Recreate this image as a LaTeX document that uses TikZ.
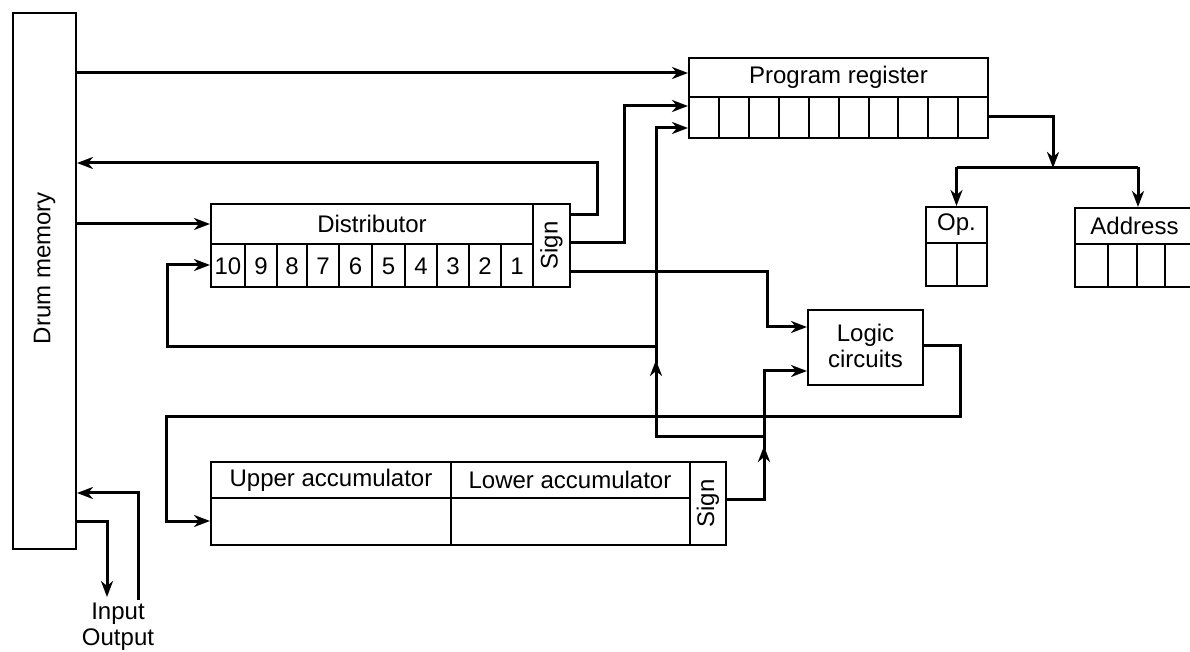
\documentclass[tikz,border=0pt]{standalone}
\usepackage{fontspec}
\setmainfont{Liberation Sans}
\usetikzlibrary{arrows.meta}
\begin{document}
\begin{tikzpicture}[x=0.5pt,y=-0.5pt,
 box/.style={draw, line width=1pt, inner sep=0pt, rectangle},
 cell/.style={line width=1pt},
 conn/.style={line width=1.5pt},
 arr/.style={conn, -{Stealth[length=8pt,width=6pt,inset=2.5pt]}},
 lbl/.style={font=\fontsize{12}{13}\selectfont, inner sep=0pt},
]
\useasboundingbox (0,0) rectangle (1190,652);
\fill[white] (0,0) rectangle (1190,652);
\clip (0,0) rectangle (1190,652);

% ---- boxes ----
\node[box, minimum width=31.5pt, minimum height=268pt] (drum) at (44.5,281) {};
\node[lbl, rotate=90] (drumlbl) at (44.5,268) {Drum memory};

\node[box, minimum width=149.5pt, minimum height=40pt] (progreg) at (838.5,98) {};
\draw[cell] (689,97) -- (988,97);
\foreach \x in {719,749,779,809,839,869,898,928,958} \draw[cell] (\x,97) -- (\x,138);
\node[lbl] (prlbl) at (838.5,77) {Program register};

\node[box, minimum width=179.5pt, minimum height=41.5pt] (dist) at (390.5,245.5) {};
\draw[cell] (211,244) -- (533,244);
\draw[cell] (533,204) -- (533,287);
\foreach \x in {245,277,307,339,372,405,437,469,501} \draw[cell] (\x,244) -- (\x,287);
\node[lbl] (distlbl) at (372,224) {Distributor};
\foreach \c/\d in {228/10,261/9,292/8,323/7,355.5/6,388.5/5,421/4,453/3,485/2,517/1}
  \node[lbl] (dg\d) at (\c,266) {\d};
\node[lbl, rotate=90] (dsign) at (551.5,245.5) {Sign};

\node[box, minimum width=30.5pt, minimum height=39.5pt] (op) at (956.5,246.5) {};
\draw[cell] (926,243) -- (987,243);
\draw[cell] (956.5,243) -- (956.5,286);
\node[lbl] (oplbl) at (956.5,225) {Op.};

\node[box, minimum width=59.5pt, minimum height=39.5pt] (addr) at (1134.5,247.5) {};
\draw[cell] (1075,244) -- (1194,244);
\foreach \x in {1108,1137,1165} \draw[cell] (\x,244) -- (\x,287);
\node[lbl] (addrlbl) at (1134.5,226) {Address};

\node[box, minimum width=57.5pt, minimum height=37.5pt] (logic) at (865.5,347.5) {};
\node[lbl, align=center] (logiclbl) at (865.5,346) {Logic\\circuits};

\node[box, minimum width=257.5pt, minimum height=41.5pt] (acc) at (468.5,503.5) {};
\draw[cell] (211,498) -- (690,498);
\draw[cell] (451,462) -- (451,545);
\draw[cell] (690,462) -- (690,545);
\node[lbl] (upperlbl) at (331,480) {Upper accumulator};
\node[lbl] (lowerlbl) at (570,480) {Lower accumulator};
\node[lbl, rotate=90] (asign) at (708,503.5) {Sign};

% ---- connectors ----
\draw[arr] (drum.east |- 0,73) -- (progreg.west |- 0,73);
\draw[arr] (dist.east |- 0,215) -| (597,163) -- (drum.east |- 0,163);
\draw[arr] (dist.east |- 0,243) -| (624,106) -- (progreg.west |- 0,106);
\draw[arr] (dist.east |- 0,272) -| (767,327) -- (logic.west |- 0,327);
\draw[arr] (drum.east |- 0,224) -- (dist.west |- 0,224);

\draw[arr] (acc.east |- 0,500) -| (764,446);
\draw[arr] (764,450) -- (764,371) -- (logic.west |- 0,371);
\draw[arr] (764,437) -| (656,360);
\draw[arr] (656,364) |- (progreg.west |- 0,128);
\draw[arr] (656,347) -| (167,265) -- (dist.west |- 0,265);

\draw[arr] (logic.east |- 0,346) -| (960,417) -| (166,521) -- (acc.west |- 0,521);

\draw[arr] (progreg.east |- 0,117) -| (1053,168);
\draw[conn] (956.5,168) -- (1138,168);
\draw[arr] (956.5,167.5) -- (op.north);
\draw[arr] (1138,167.5) -- (addr.north -| 1138,0);

\draw[arr] (drum.east |- 0,521) -| (107,597);
\draw[arr] (138,600) |- (drum.east |- 0,493);
\node[lbl] (inp) at (118,614) {Input};
\node[lbl] (outp) at (118,640) {Output};
\end{tikzpicture}
\end{document}
